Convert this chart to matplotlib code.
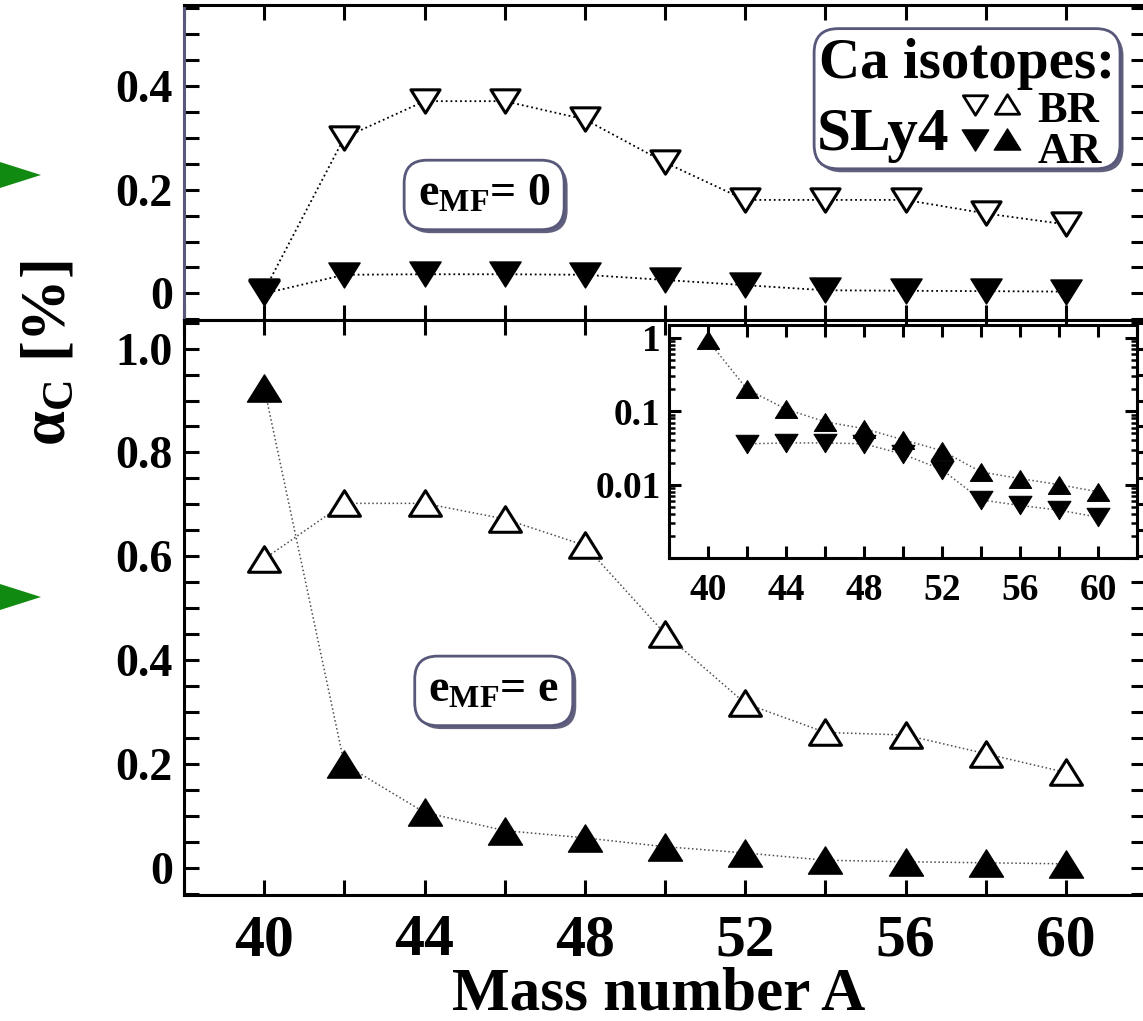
import matplotlib
matplotlib.use("Agg")
import matplotlib.pyplot as plt
import matplotlib.patheffects as pe
import numpy as np
from matplotlib.path import Path
from matplotlib.patches import FancyBboxPatch, Polygon
from matplotlib.ticker import MultipleLocator, FuncFormatter, LogLocator, NullFormatter

# Ca isotopes, SLy4: alpha_C [%] before (BR) and after (AR) rediagonalisation
mass = [40, 42, 44, 46, 48, 50, 52, 54, 56, 58, 60]
br_mf0 = [0.005, 0.300, 0.370, 0.370, 0.335, 0.252, 0.180, 0.180, 0.180, 0.154, 0.133]
ar_mf0 = [0.0, 0.036, 0.037, 0.037, 0.036, 0.026, 0.016, 0.0062, 0.0052, 0.0045, 0.0036]
br_mfe = [0.595, 0.702, 0.702, 0.672, 0.621, 0.451, 0.317, 0.261, 0.256, 0.220, 0.184]
ar_mfe = [0.925, 0.200, 0.107, 0.072, 0.058, 0.041, 0.029, 0.0149, 0.0121, 0.0100, 0.0080]

W, H = 1143, 1021
plt.rcParams['font.family'] = 'Liberation Serif'
plt.rcParams['font.weight'] = 'bold'
plt.rcParams['axes.labelweight'] = 'bold'
plt.rcParams['mathtext.fontset'] = 'custom'
plt.rcParams['mathtext.rm'] = 'Liberation Serif:bold'
plt.rcParams['mathtext.bf'] = 'Liberation Serif:bold'
plt.rcParams['mathtext.it'] = 'Liberation Serif:bold:italic'

TRI_UP = Path([(-1, -0.8), (1, -0.8), (0, 0.8), (-1, -0.8)], closed=True)
TRI_DN = Path([(-1, 0.8), (1, 0.8), (0, -0.8), (-1, 0.8)], closed=True)
FRAME = '#58587a'


def px_box(x0, y0, x1, y1):
    return [x0 / W, 1 - y1 / H, (x1 - x0) / W, (y1 - y0) / H]


def zero_fmt(v, _):
    return '0' if abs(v) < 1e-9 else f'{v:.1f}'


def frame(ax, lw=2.2, length=11):
    for s in ax.spines.values():
        s.set_linewidth(lw)
    ax.tick_params(which='both', direction='in', top=True, right=True,
                   length=length, width=lw)


def label_box(ax, x, y, s):
    t = ax.text(x, y, s, transform=ax.transAxes, ha='center', va='center', fontsize=33,
                bbox=dict(boxstyle='round,pad=0.3,rounding_size=0.5', fc='white', ec=FRAME, lw=2))
    t.get_bbox_patch().set_path_effects([pe.SimplePatchShadow(offset=(2.5, -2.5), shadow_rgbFace='#505070', alpha=0.9),
                                         pe.Normal()])


fig = plt.figure(figsize=(W / 100, H / 100), dpi=100)
ax_top = fig.add_axes(px_box(184, 5, 1146, 320))
ax_bot = fig.add_axes(px_box(184, 320, 1146, 895))
ax_in = fig.add_axes(px_box(669, 325, 1137, 558))

# ---- top panel: e_MF = 0
ax_top.plot(mass, br_mf0, ls=':', color='k', lw=1.3, marker=TRI_DN, ms=21,
            mfc='white', mec='k', mew=2.2, zorder=3)
ax_top.plot(mass, ar_mf0, ls=':', color='k', lw=1.3, marker=TRI_DN, ms=22.5,
            mfc='k', mec='k', mew=1, zorder=4)
ax_top.set_xlim(38, 62)
ax_top.set_ylim(-0.051, 0.555)
ax_top.xaxis.set_major_locator(MultipleLocator(2))
ax_top.xaxis.set_major_formatter(NullFormatter())
ax_top.yaxis.set_major_locator(MultipleLocator(0.2))
ax_top.yaxis.set_minor_locator(MultipleLocator(0.05))
ax_top.yaxis.set_major_formatter(FuncFormatter(zero_fmt))
frame(ax_top)
ax_top.spines['left'].set_color(FRAME)
ax_top.tick_params(axis='y', labelsize=33, pad=8)
label_box(ax_top, 0.312, 0.397, r'$\mathbf{e_{MF}}$= 0')

# legend box
ax_top.add_patch(FancyBboxPatch((0.655, 0.48), 0.318, 0.445, transform=ax_top.transAxes,
                                boxstyle='round,pad=0,rounding_size=0.025', mutation_aspect=962 / 315,
                                fc='white', ec=FRAME, lw=2, zorder=5,
                                path_effects=[pe.SimplePatchShadow(offset=(2.5, -2.5), shadow_rgbFace='#505070',
                                                                   alpha=0.9), pe.Normal()]))
ax_top.text(0.8145, 0.768, 'Ca isotopes:', transform=ax_top.transAxes, ha='center', va='baseline',
            fontsize=41, zorder=6)
ax_top.text(0.658, 0.540, 'SLy4', transform=ax_top.transAxes, ha='left', va='baseline', fontsize=44, zorder=6)
ax_top.text(0.887, 0.629, 'BR', transform=ax_top.transAxes, ha='left', va='baseline', fontsize=32, zorder=6)
ax_top.text(0.887, 0.498, 'AR', transform=ax_top.transAxes, ha='left', va='baseline', fontsize=32, zorder=6)
ax_top.plot([0.822], [0.683], transform=ax_top.transAxes, marker=TRI_DN, ms=17.5, mfc='white', mec='k',
            mew=2, ls='none', zorder=6, clip_on=False)
ax_top.plot([0.8555], [0.686], transform=ax_top.transAxes, marker=TRI_UP, ms=17.5, mfc='white', mec='k',
            mew=2, ls='none', zorder=6, clip_on=False)
ax_top.plot([0.822], [0.571], transform=ax_top.transAxes, marker=TRI_DN, ms=19, mfc='k', mec='k',
            ls='none', zorder=6, clip_on=False)
ax_top.plot([0.8555], [0.575], transform=ax_top.transAxes, marker=TRI_UP, ms=19, mfc='k', mec='k',
            ls='none', zorder=6, clip_on=False)

# ---- bottom panel: e_MF = e
ax_bot.plot(mass, br_mfe, ls=':', color='0.3', lw=1.1, marker=TRI_UP, ms=23,
            mfc='white', mec='k', mew=2.2, zorder=3)
ax_bot.plot(mass, ar_mfe, ls=':', color='0.3', lw=1.1, marker=TRI_UP, ms=24.5,
            mfc='k', mec='k', mew=1, zorder=4)
ax_bot.set_xlim(38, 62)
ax_bot.set_ylim(-0.052, 1.055)
ax_bot.xaxis.set_major_locator(MultipleLocator(4))
ax_bot.xaxis.set_minor_locator(MultipleLocator(2))
ax_bot.yaxis.set_major_locator(MultipleLocator(0.2))
ax_bot.yaxis.set_minor_locator(MultipleLocator(0.05))
ax_bot.yaxis.set_major_formatter(FuncFormatter(zero_fmt))
frame(ax_bot)
ax_bot.tick_params(axis='y', labelsize=33, pad=8)
ax_bot.tick_params(axis='x', labelsize=43, pad=14)
label_box(ax_bot, 0.322, 0.355, r'$\mathbf{e_{MF}}$= e')

ax_bot.set_xlabel('Mass number A', fontsize=44, fontweight='bold')
ax_bot.xaxis.label.set_va('baseline')
ax_bot.xaxis.set_label_coords(0.4938, -0.1983)
ax_bot.set_ylabel(r'$\mathbf{\alpha_{C}}$ [%]', fontsize=45, fontweight='bold')
ax_bot.yaxis.label.set_va('center')
ax_bot.yaxis.set_label_coords(-0.139, 0.943)

# ---- inset: log scale of the AR values
ar_mf0_pos = np.ma.masked_less_equal(np.array(ar_mf0), 0)
ax_in.semilogy(mass, ar_mfe, ls=':', color='0.35', lw=1.1, marker=TRI_UP, ms=16,
               mfc='k', mec='k', mew=0.8, zorder=3)
ax_in.semilogy(mass, ar_mf0_pos, ls=':', color='0.35', lw=1.1, marker=TRI_DN, ms=16.5,
               mfc='k', mec='k', mew=0.8, zorder=3)
ax_in.set_xlim(38, 62)
ax_in.set_ylim(0.001, 1.5)
ax_in.xaxis.set_major_locator(MultipleLocator(4))
ax_in.xaxis.set_minor_locator(MultipleLocator(2))
ax_in.yaxis.set_major_locator(LogLocator(base=10))
ax_in.yaxis.set_minor_locator(LogLocator(base=10, subs=np.arange(2, 10)))
ax_in.yaxis.set_minor_formatter(NullFormatter())
ax_in.yaxis.set_major_formatter(FuncFormatter(
    lambda v, _: {0: '1', -1: '0.1', -2: '0.01'}.get(int(round(np.log10(v))), '')))
frame(ax_in, lw=2.2, length=8.6)
ax_in.tick_params(axis='y', which='minor', length=4.5, width=1.8)
ax_in.tick_params(axis='y', labelsize=27, pad=6)
ax_in.tick_params(axis='x', labelsize=27, pad=11)

# green page markers on the left edge
for yc in (175, 597):
    fig.add_artist(Polygon([(0, 1 - (yc - 13) / H), (0, 1 - (yc + 13) / H), (41 / W, 1 - yc / H)],
                           closed=True, transform=fig.transFigure, fc='#108a10', ec='none'))

fig.savefig('out.png', dpi=100)
